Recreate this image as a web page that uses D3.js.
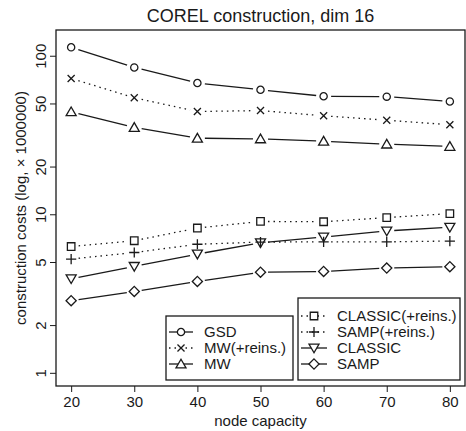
<!DOCTYPE html>
<html>
<head>
<meta charset="utf-8">
<script src="https://cdn.jsdelivr.net/npm/d3@7"></script>
<style>
  body { margin: 0; background: #fff; }
  svg text { font-family: "Liberation Sans", Arial, sans-serif; fill: #1a1a1a; }
</style>
</head>
<body>
<svg id="svg" width="466" height="431"></svg>
<script>
// values (x 1000000)
var capacities = [20, 30, 40, 50, 60, 70, 80];
var gsd          = [113, 84.4, 67.3, 61.0, 55.5, 55.2, 51.5];
var mwReins      = [71.9, 54.3, 44.5, 45.1, 41.8, 39.2, 36.7];
var mw           = [44.3, 35.3, 30.2, 29.9, 28.9, 27.7, 26.8];
var classicReins = [6.26, 6.81, 8.19, 9.01, 8.97, 9.53, 10.1];
var sampReins    = [5.22, 5.74, 6.47, 6.68, 6.70, 6.70, 6.78];
var classic      = [3.92, 4.69, 5.61, 6.61, 7.19, 7.85, 8.28];
var samp         = [2.85, 3.26, 3.77, 4.31, 4.36, 4.58, 4.67];
var yTicks = [1, 2, 5, 10, 20, 50, 100];
var yLimits = [1, 120];

var series = [
  { name: 'GSD',              values: gsd,          sym: 'circle',  dotted: false, legend: 0 },
  { name: 'MW(+reins.)',      values: mwReins,      sym: 'times',   dotted: true,  legend: 0 },
  { name: 'MW',               values: mw,           sym: 'triUp',   dotted: false, legend: 0 },
  { name: 'CLASSIC(+reins.)', values: classicReins, sym: 'square',  dotted: true,  legend: 1 },
  { name: 'SAMP(+reins.)',    values: sampReins,    sym: 'plus',    dotted: true,  legend: 1 },
  { name: 'CLASSIC',          values: classic,      sym: 'triDown', dotted: false, legend: 1 },
  { name: 'SAMP',             values: samp,         sym: 'diamond', dotted: false, legend: 1 }
];

var svg = d3.select('#svg'),
    plot = { left: 56, right: 465, top: 30, bottom: 386 },
    ink = '#1a1a1a',
    lw = 1.3,
    gap = 7.5; // gap between line ends and symbols (type = "b")

// R style axis extension (4 %)
var xPad = (d3.max(capacities) - d3.min(capacities)) * 0.04;
var lyLo = Math.log10(yLimits[0]), lyHi = Math.log10(yLimits[1]), lyPad = (lyHi - lyLo) * 0.04;

var x = d3.scaleLinear()
  .domain([d3.min(capacities) - xPad, d3.max(capacities) + xPad])
  .range([plot.left, plot.right]);
var y = d3.scaleLog()
  .domain([Math.pow(10, lyLo - lyPad), Math.pow(10, lyHi + lyPad)])
  .range([plot.bottom, plot.top]);

setupChart();

function setupChart () {
  drawAxes();
  series.forEach(function (s) { drawSeries(s); });
  drawLegend(series.filter(function (s) { return s.legend === 0; }), 166, 316, 293, 380, 332, 169, 193, 204);
  drawLegend(series.filter(function (s) { return s.legend === 1; }), 298, 298, 460, 380, 316, 301, 327, 337);
}

// ====================================================================================
// === Axes, box, titles

function drawAxes () {
  var xAxis = svg.append('g')
    .attr('transform', 'translate(0,' + plot.bottom + ')')
    .call(d3.axisBottom(x).tickValues(capacities).tickSize(6).tickSizeOuter(0).tickPadding(4));
  xAxis.select('.domain').remove();
  xAxis.selectAll('line').attr('stroke', ink).attr('stroke-width', 1);
  xAxis.selectAll('text').attr('font-size', 15).attr('font-family', null).attr('fill', ink);

  var yAxis = svg.append('g')
    .attr('transform', 'translate(' + plot.left + ',0)')
    .call(d3.axisLeft(y).tickValues(yTicks).tickFormat(d3.format('d')).tickSize(6).tickSizeOuter(0));
  yAxis.select('.domain').remove();
  yAxis.selectAll('line').attr('stroke', ink).attr('stroke-width', 1);
  // labels parallel to the axis, like R
  yAxis.selectAll('text')
    .attr('x', null).attr('dy', null)
    .attr('font-size', 15).attr('font-family', null).attr('fill', ink)
    .attr('text-anchor', 'middle')
    .attr('transform', 'translate(-10,0) rotate(-90)');

  svg.append('rect')
    .attr('x', plot.left).attr('y', plot.top)
    .attr('width', plot.right - plot.left).attr('height', plot.bottom - plot.top)
    .attr('fill', 'none').attr('stroke', ink).attr('stroke-width', 1.3);

  svg.append('text')
    .attr('x', (plot.left + plot.right) / 2).attr('y', 22)
    .attr('text-anchor', 'middle').attr('font-size', 18)
    .text('COREL construction, dim 16');

  svg.append('text')
    .attr('x', (plot.left + plot.right) / 2).attr('y', 426)
    .attr('text-anchor', 'middle').attr('font-size', 15)
    .text('node capacity');

  svg.append('text')
    .attr('transform', 'translate(26,' + (plot.top + plot.bottom) / 2 + ') rotate(-90)')
    .attr('text-anchor', 'middle').attr('font-size', 15)
    .text('construction costs (log, \u00d7 1000000)');
}

// ====================================================================================
// === Series

function symbolPath (kind) {
  var types = {
    circle:  [d3.symbolCircle, 41],
    times:   [d3.symbolTimes, 34],
    triUp:   [d3.symbolTriangle2, 72],
    triDown: [d3.symbolTriangle2, 72],
    square:  [d3.symbolSquare2, 72],
    plus:    [d3.symbolPlus, 36],
    diamond: [d3.symbolDiamond2, 66]
  };
  return d3.symbol().type(types[kind][0]).size(types[kind][1])();
}

function symbolTransform (kind, px, py) {
  // triangles sit with their centroid a bit off the point in R; shift slightly
  if (kind === 'triUp') return 'translate(' + px + ',' + (py + 1) + ')';
  if (kind === 'triDown') return 'translate(' + px + ',' + (py - 1) + ') rotate(180)';
  return 'translate(' + px + ',' + py + ')';
}

function brokenSegments (pts) {
  var segs = [];
  for (var i = 0; i < pts.length - 1; i++) {
    var a = pts[i], b = pts[i + 1],
        dx = b[0] - a[0], dy = b[1] - a[1],
        len = Math.sqrt(dx * dx + dy * dy);
    if (len <= 2 * gap) continue;
    var ux = dx / len, uy = dy / len;
    segs.push([a[0] + ux * gap, a[1] + uy * gap, b[0] - ux * gap, b[1] - uy * gap]);
  }
  return segs;
}

function drawSeries (s) {
  var pts = capacities.map(function (c, i) { return [x(c), y(s.values[i])]; });
  var g = svg.append('g');

  g.selectAll('line').data(brokenSegments(pts)).enter().append('line')
    .attr('x1', function (d) { return d[0]; })
    .attr('y1', function (d) { return d[1]; })
    .attr('x2', function (d) { return d[2]; })
    .attr('y2', function (d) { return d[3]; })
    .attr('stroke', ink).attr('stroke-width', lw)
    .attr('stroke-dasharray', s.dotted ? '1.5,4' : null);

  g.selectAll('path').data(pts).enter().append('path')
    .attr('d', symbolPath(s.sym))
    .attr('transform', function (d) { return symbolTransform(s.sym, d[0], d[1]); })
    .attr('fill', 'none').attr('stroke', ink).attr('stroke-width', lw);
}

// ====================================================================================
// === Legend

function drawLegend (items, x0, y0, x1, y1, rowY, lineX0, lineX1, textX) {
  var g = svg.append('g');
  g.append('rect')
    .attr('x', x0).attr('y', y0).attr('width', x1 - x0).attr('height', y1 - y0)
    .attr('fill', '#fff').attr('stroke', ink).attr('stroke-width', 1.3);

  var rows = g.selectAll('.row').data(items).enter().append('g')
    .attr('transform', function (d, i) { return 'translate(0,' + (rowY + i * 16) + ')'; });

  rows.append('line')
    .attr('x1', lineX0).attr('x2', lineX1)
    .attr('stroke', ink).attr('stroke-width', lw)
    .attr('stroke-dasharray', function (d) { return d.dotted ? '1.5,4' : null; });

  rows.append('path')
    .attr('d', function (d) { return symbolPath(d.sym); })
    .attr('transform', function (d) { return symbolTransform(d.sym, (lineX0 + lineX1) / 2, 0); })
    .attr('fill', '#fff').attr('stroke', ink).attr('stroke-width', lw);

  rows.append('text')
    .attr('x', textX).attr('dy', '0.36em')
    .attr('font-size', 15)
    .text(function (d) { return d.name; });
}
</script>
</body>
</html>
